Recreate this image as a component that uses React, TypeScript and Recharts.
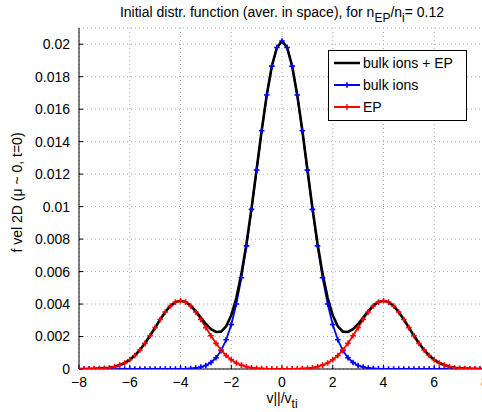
import React from "react";
import { CartesianGrid, Legend, Line, LineChart, XAxis, YAxis } from "recharts";

// v_par / v_ti sample points (markers every 0.2)
const vPar = [
  -8, -7.8, -7.6, -7.4, -7.2, -7, -6.8, -6.6, -6.4, -6.2,
  -6, -5.8, -5.6, -5.4, -5.2, -5, -4.8, -4.6, -4.4, -4.2,
  -4, -3.8, -3.6, -3.4, -3.2, -3, -2.8, -2.6, -2.4, -2.2,
  -2, -1.8, -1.6, -1.4, -1.2, -1, -0.8, -0.6, -0.4, -0.2,
  0,
  0.2, 0.4, 0.6, 0.8, 1, 1.2, 1.4, 1.6, 1.8, 2,
  2.2, 2.4, 2.6, 2.8, 3, 3.2, 3.4, 3.6, 3.8, 4,
  4.2, 4.4, 4.6, 4.8, 5, 5.2, 5.4, 5.6, 5.8, 6,
  6.2, 6.4, 6.6, 6.8, 7, 7.2, 7.4, 7.6, 7.8, 8,
];

const bulkIons = [
  0, 0, 0, 0, 0, 0, 0, 0, 0, 0,
  0, 0, 0, 0, 0, 0, 0, 0, 0, 0,
  0, 0.00001, 0.00003, 0.00006, 0.00012, 0.00022, 0.0004, 0.00069, 0.00113, 0.0018,
  0.00273, 0.004, 0.00562, 0.00758, 0.00983, 0.01225, 0.01467, 0.01687, 0.01865, 0.0198,
  0.0202,
  0.0198, 0.01865, 0.01687, 0.01467, 0.01225, 0.00983, 0.00758, 0.00562, 0.004, 0.00273,
  0.0018, 0.00113, 0.00069, 0.0004, 0.00022, 0.00012, 0.00006, 0.00003, 0.00001, 0,
  0, 0, 0, 0, 0, 0, 0, 0, 0, 0,
  0, 0, 0, 0, 0, 0, 0, 0, 0, 0,
];

const energeticParticles = [
  0, 0, 0.00001, 0.00001, 0.00003, 0.00005, 0.00008, 0.00014, 0.00024, 0.00037,
  0.00057, 0.00083, 0.00117, 0.00158, 0.00205, 0.00255, 0.00305, 0.00351, 0.00388, 0.00412,
  0.0042, 0.00412, 0.00388, 0.00351, 0.00305, 0.00255, 0.00205, 0.00158, 0.00117, 0.00083,
  0.00057, 0.00037, 0.00024, 0.00014, 0.00008, 0.00005, 0.00003, 0.00001, 0.00001, 0,
  0,
  0, 0.00001, 0.00001, 0.00003, 0.00005, 0.00008, 0.00014, 0.00024, 0.00037, 0.00057,
  0.00083, 0.00117, 0.00158, 0.00205, 0.00255, 0.00305, 0.00351, 0.00388, 0.00412, 0.0042,
  0.00412, 0.00388, 0.00351, 0.00305, 0.00255, 0.00205, 0.00158, 0.00117, 0.00083, 0.00057,
  0.00037, 0.00024, 0.00014, 0.00008, 0.00005, 0.00003, 0.00001, 0.00001, 0, 0,
];

const bulkPlusEp = [
  0, 0, 0.00001, 0.00001, 0.00003, 0.00005, 0.00008, 0.00014, 0.00024, 0.00037,
  0.00057, 0.00083, 0.00117, 0.00158, 0.00205, 0.00255, 0.00305, 0.00351, 0.00388, 0.00412,
  0.0042, 0.00413, 0.00391, 0.00357, 0.00317, 0.00277, 0.00245, 0.00228, 0.0023, 0.00263,
  0.0033, 0.00437, 0.00586, 0.00772, 0.00991, 0.0123, 0.0147, 0.01688, 0.01866, 0.0198,
  0.0202,
  0.0198, 0.01866, 0.01688, 0.0147, 0.0123, 0.00991, 0.00772, 0.00586, 0.00437, 0.0033,
  0.00263, 0.0023, 0.00228, 0.00245, 0.00277, 0.00317, 0.00357, 0.00391, 0.00413, 0.0042,
  0.00412, 0.00388, 0.00351, 0.00305, 0.00255, 0.00205, 0.00158, 0.00117, 0.00083, 0.00057,
  0.00037, 0.00024, 0.00014, 0.00008, 0.00005, 0.00003, 0.00001, 0.00001, 0, 0,
];

const xTicks = [-8, -6, -4, -2, 0, 2, 4, 6, 8];
const yTicks = [0, 0.002, 0.004, 0.006, 0.008, 0.01, 0.012, 0.014, 0.016, 0.018, 0.02];

const legendItems = [
  { name: "bulk ions + EP", color: "#000000", marker: false },
  { name: "bulk ions", color: "#0000ff", marker: true },
  { name: "EP", color: "#ff0000", marker: true },
];

const data = vPar.map((v, i) => ({
  v,
  bulk: bulkIons[i],
  ep: energeticParticles[i],
  total: bulkPlusEp[i],
}));

const FONT = "'Liberation Sans', Arial, sans-serif";

function plusDot(color: string) {
  return (props: any) => {
    const { cx, cy, index } = props;
    if (cx == null || cy == null) return <g key={`p-${index}`} />;
    return (
      <path
        key={`p-${index}`}
        d={`M${cx - 2.8},${cy}h5.6M${cx},${cy - 2.8}v5.6`}
        stroke={color}
        strokeWidth={1.6}
        fill="none"
      />
    );
  };
}

function LegendBox() {
  return (
    <svg width={140} height={72} style={{ display: "block" }}>
      <rect x={0.5} y={0.5} width={138} height={70} fill="#fff" stroke="#000" strokeWidth={1} />
      {legendItems.map((it, i) => {
        const y = 13 + i * 22;
        return (
          <g key={it.name}>
            <line x1={6} x2={32} y1={y} y2={y} stroke={it.color} strokeWidth={it.marker ? 2 : 2.5} />
            {it.marker && (
              <path d={`M${19 - 2.8},${y}h5.6M19,${y - 2.8}v5.6`} stroke={it.color} strokeWidth={1.6} />
            )}
            <text x={35} y={y + 5} fontFamily={FONT} fontSize={14} fill="#000">
              {it.name}
            </text>
          </g>
        );
      })}
    </svg>
  );
}

const fmtX = (v: number) => (v < 0 ? `\u2212${-v}` : `${v}`);
const fmtY = (v: number) => `${Number(v.toFixed(3))}`;

export default function App() {
  return (
    <div style={{ position: "absolute", left: 0, top: 0, width: 482, height: 412, overflow: "hidden", background: "#fff" }}>
      <svg width={482} height={30} style={{ position: "absolute", left: 0, top: 0 }}>
        <text x={282} y={17} textAnchor="middle" fontFamily={FONT} fontSize={14} fill="#000">
          Initial distr. function (aver. in space), for n
          <tspan dy={5} fontSize={12}>EP</tspan>
          <tspan dy={-5}>/n</tspan>
          <tspan dy={5} fontSize={12}>i</tspan>
          <tspan dy={-5}>= 0.12</tspan>
        </text>
      </svg>
      <LineChart
        width={490}
        height={412}
        data={data}
        margin={{ top: 28, right: 5, bottom: 0, left: 0 }}
        style={{ position: "absolute", left: 0, top: 0 }}
      >
        <CartesianGrid stroke="#a8a8a8" strokeDasharray="1 3" />
        <XAxis
          dataKey="v"
          type="number"
          domain={[-8, 8]}
          ticks={xTicks}
          tickFormatter={fmtX}
          height={43}
          tickSize={-4}
          tickMargin={12}
          axisLine={{ stroke: "#000" }}
          tickLine={{ stroke: "#000" }}
          tick={{ fill: "#000", fontSize: 14, fontFamily: FONT }}
          interval={0}
          allowDataOverflow
          label={(p: any) => {
            const vb = p.viewBox || {};
            const cx = (vb.x ?? 79) + (vb.width ?? 406) / 2;
            return (
              <text x={cx} y={403} textAnchor="middle" fontFamily={FONT} fontSize={14} fill="#000">
                v||/v
                <tspan dy={5} fontSize={12}>ti</tspan>
              </text>
            );
          }}
        />
        <YAxis
          type="number"
          domain={[0, 0.021]}
          ticks={yTicks}
          tickFormatter={fmtY}
          width={79}
          tickSize={-4}
          tickMargin={13}
          axisLine={{ stroke: "#000" }}
          tickLine={{ stroke: "#000" }}
          tick={{ fill: "#000", fontSize: 14, fontFamily: FONT }}
          interval={0}
          allowDataOverflow
          label={(p: any) => {
            const vb = p.viewBox || {};
            const cy = (vb.y ?? 28) + (vb.height ?? 341) / 2 - 6;
            return (
              <text
                x={22}
                y={cy}
                transform={`rotate(-90 22 ${cy})`}
                textAnchor="middle"
                fontFamily={FONT}
                fontSize={14}
                fill="#000"
              >
                f vel 2D (μ ~ 0, t=0)
              </text>
            );
          }}
        />
        <Legend
          layout="vertical"
          align="center"
          verticalAlign="middle"
          content={() => <LegendBox />}
          wrapperStyle={{ position: "absolute", left: 328, top: 50, width: 140, height: 72 }}
        />
        <Line
          type="linear"
          dataKey="bulk"
          name="bulk ions"
          stroke="#0000ff"
          strokeWidth={1.8}
          dot={plusDot("#0000ff")}
          activeDot={false}
          isAnimationActive={false}
        />
        <Line
          type="linear"
          dataKey="ep"
          name="EP"
          stroke="#ff0000"
          strokeWidth={1.8}
          dot={plusDot("#ff0000")}
          activeDot={false}
          isAnimationActive={false}
        />
        <Line
          type="linear"
          dataKey="total"
          name="bulk ions + EP"
          stroke="#000000"
          strokeWidth={2.6}
          dot={false}
          activeDot={false}
          isAnimationActive={false}
        />
      </LineChart>
    </div>
  );
}
